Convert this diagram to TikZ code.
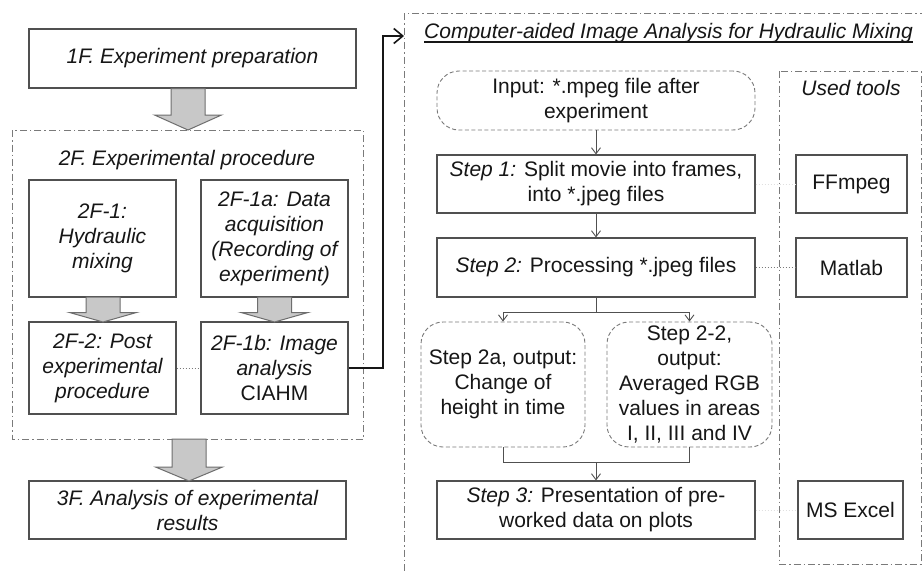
\documentclass[tikz,border=0pt]{standalone}
\usepackage{fontspec}
\setmainfont{Liberation Sans}
\usetikzlibrary{arrows.meta}
\definecolor{ink}{HTML}{161616}
\definecolor{frame}{HTML}{505050}
\definecolor{dashgray}{HTML}{7A7A7A}
\definecolor{fatfill}{HTML}{C8C8C8}
\definecolor{fatline}{HTML}{6E6E6E}
\tikzset{
  every node/.style={font=\fontsize{21}{25}\selectfont, text=ink},
  box/.style={draw=frame, line width=1.1pt, fill=white, inner sep=0pt, align=center},
  softbox/.style={draw=dashgray, line width=0.9pt, dash pattern=on 4pt off 2.5pt,
    rounded corners=22pt, fill=white, inner sep=0pt, align=center},
  group/.style={draw=dashgray, line width=0.9pt, dash pattern=on 7pt off 3pt on 1.5pt off 3pt},
  flow/.style={draw=frame, line width=0.9pt, -{Straight Barb[length=6pt,width=9pt]}},
  plain/.style={draw=frame, line width=0.9pt},
  link/.style={draw=dashgray, line width=0.8pt, dash pattern=on 1.5pt off 1.5pt},
  faintlink/.style={draw=black!12, line width=0.8pt, dash pattern=on 1.5pt off 1.5pt},
  fat/.style={draw=fatline, fill=fatfill, line width=1pt, line join=miter},
}
% block arrow: centre x, top y, start of head, tip y
\newcommand\fatdown[4]{%
  \draw[fat] (#1-17,#2) -- (#1+17,#2) -- (#1+17,#3) -- (#1+33.5,#3) -- (#1,#4)
    -- (#1-33.5,#3) -- (#1-17,#3) -- cycle;}
\begin{document}
\begin{tikzpicture}[x=1pt,y=-1pt]
\useasboundingbox (0,0) rectangle (922,573);
\clip (0,0) rectangle (922,573);
\fill[white] (0,0) rectangle (922,573);

% ---------------- left column ----------------
\node[box, minimum width=327pt, minimum height=59pt, font=\fontsize{21}{25}\selectfont\itshape]
  (p1) at (192.5,58.5) {1F. Experiment preparation};

\draw[group] (12,130) rectangle (363,439);
\node (p2title) at (187,160) {\itshape 2F. Experimental procedure};

\node[box, minimum width=147pt, minimum height=117pt] (hm) at (102.5,238.5)
  {\itshape 2F-1:\\ \itshape Hydraulic\\ \itshape mixing};
\node[box, minimum width=147pt, minimum height=117pt] (da) at (274.5,238.5)
  {\itshape 2F-1a: Data\\ \itshape acquisition\\ \itshape (Recording of\\ \itshape experiment)};
\node[box, minimum width=147pt, minimum height=92pt] (pp) at (102.5,368)
  {\itshape 2F-2: Post\\ \itshape experimental\\ \itshape procedure};
\node[box, minimum width=147pt, minimum height=92pt] (ia) at (274.5,368)
  {\itshape 2F-1b: Image\\ \itshape analysis\\ CIAHM};

\node[box, minimum width=317pt, minimum height=58pt] (p3) at (187.5,510)
  {\itshape 3F. Analysis of experimental\\ \itshape results};

\fatdown{188}{88.5}{115}{130}
\fatdown{103}{297}{312.5}{322}
\fatdown{274.5}{297}{312.5}{322}
\fatdown{189}{439}{467}{481}

\draw[link] (pp.east) -- (ia.west);

% ---------------- CIAHM panel ----------------
\draw[group] (404,13) rectangle (960,610);
\node[inner sep=0pt, anchor=base west] (ctitle) at (424,38.5)
  {\itshape Computer-aided Image Analysis for Hydraulic Mixing};
\draw[ink, line width=1.3pt] ([yshift=-3.5pt]ctitle.base west) -- ([yshift=-3.5pt]ctitle.base east);
\coordinate (panelin) at (404,36);
\draw[line width=2.4pt, ink, -{Straight Barb[length=9pt,width=15pt,line width=1.6pt]}]
  (ia.east) -- (383,368) |- (panelin);

\node[softbox, minimum width=318pt, minimum height=59pt] (inp) at (596,100.5)
  {Input: *.mpeg file after\\ experiment};
\node[box, minimum width=318pt, minimum height=58pt] (s1) at (596,184)
  {\textit{Step 1:} Split movie into frames,\\ into *.jpeg files};
\node[box, minimum width=318pt, minimum height=59pt] (s2) at (596,267.5)
  {\textit{Step 2:} Processing *.jpeg files};
\node[softbox, minimum width=164pt, minimum height=125pt] (s2a) at (503,384.5)
  {Step 2a, output:\\ Change of\\ height in time};
\node[softbox, minimum width=165pt, minimum height=125pt] (s22) at (689.5,384.5)
  {Step 2-2,\\ output:\\ Averaged RGB\\ values in areas\\ I, II, III and IV};
\node[box, minimum width=318pt, minimum height=58pt] (s3) at (596,510)
  {\textit{Step 3:} Presentation of pre-\\ worked data on plots};

\draw[flow] (inp.south) -- (s1.north);
\draw[flow] (s1.south) -- (s2.north);
\coordinate (split) at (596,312);
\draw[plain] (s2.south) -- (split);
\draw[flow] (split) -| (s2a.north);
\draw[flow] (split) -| (s22.north);
\coordinate (join) at (596,462);
\draw[plain] (s2a.south) |- (join);
\draw[plain] (s22.south) |- (join);
\draw[flow] (join) -- (s3.north);

% ---------------- tools ----------------
\draw[group] (779,71) rectangle (921,564);
\node (ttitle) at (851,88) {\itshape Used tools};
\node[box, minimum width=111pt, minimum height=58pt] (ff) at (851.5,184) {FFmpeg};
\node[box, minimum width=111pt, minimum height=59pt] (ml) at (851.5,267.5) {Matlab};
\node[box, minimum width=105pt, minimum height=58pt] (xl) at (850.5,510) {MS Excel};

\draw[link] (s2.east) -- (ml.west);
\draw[faintlink] (s1.east) -- (ff.west);
\draw[faintlink] (s3.east) -- (xl.west);
\end{tikzpicture}
\end{document}
